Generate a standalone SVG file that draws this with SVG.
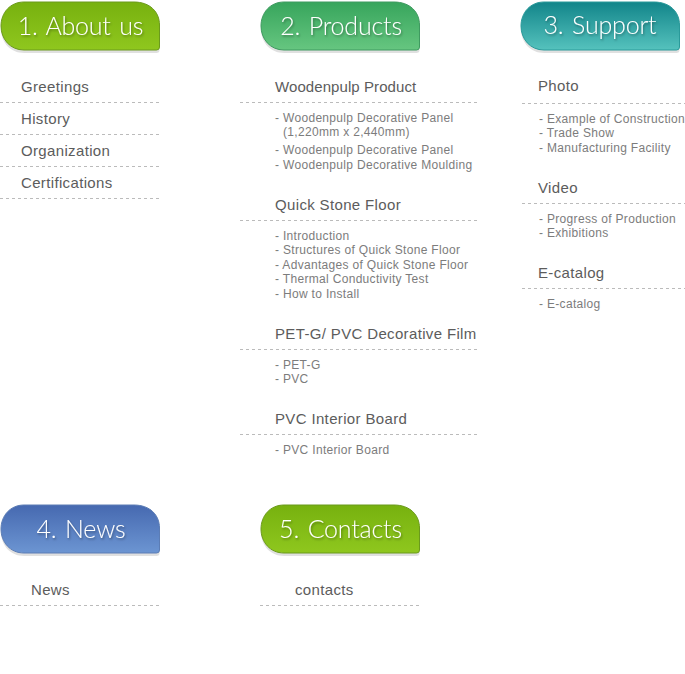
<svg xmlns="http://www.w3.org/2000/svg" width="685" height="674" viewBox="0 0 685 674">
<style>
text{font-family:"Liberation Sans",Arial,sans-serif}
.t{font-family:Lato,"Liberation Sans",sans-serif;font-weight:300;font-size:25px;fill:#fff;letter-spacing:-.2px;word-spacing:2px;text-anchor:middle;filter:url(#ts)}
.h{font-size:15px;fill:#5c5c5c;letter-spacing:.35px}
.s{font-size:12px;fill:#7c7c7c;letter-spacing:.32px}
.d{stroke:#bbb;stroke-width:1;stroke-dasharray:3 3;fill:none}
.sh{fill:#000;opacity:.12}
</style>
<defs>
<filter id="ts" x="-10%" y="-20%" width="120%" height="150%"><feDropShadow dx="1" dy="1.5" stdDeviation="1.2" flood-color="#000" flood-opacity=".35"/></filter>
<path id="b" d="M24 2H134C150 2 159.500 12 159.500 25V47Q159.500 50 156.500 50H24C10 50 1 39 1 26C1 13 10 2 24 2Z"/>
<linearGradient id="g1" x1="0" y1="0" x2="0" y2="1"><stop offset="0" stop-color="#77b10f"/><stop offset="1" stop-color="#8fc71e"/></linearGradient>
<linearGradient id="g2" x1="0" y1="0" x2="0" y2="1"><stop offset="0" stop-color="#37a55c"/><stop offset="1" stop-color="#66c680"/></linearGradient>
<linearGradient id="g3" x1="0" y1="0" x2="0" y2="1"><stop offset="0" stop-color="#12858a"/><stop offset="1" stop-color="#55c2bd"/></linearGradient>
<linearGradient id="g4" x1="0" y1="0" x2="0" y2="1"><stop offset="0" stop-color="#4669b0"/><stop offset="1" stop-color="#6c95d2"/></linearGradient>
</defs>
<g id="about">
<use href="#b" class="sh" y="3"/><use href="#b" fill="url(#g1)" stroke="#6b9a1c"/>
<text class="t" x="80.500" y="34.500">1. About us</text>
<text class="h" x="21" y="92">Greetings</text><path class="d" d="M0 102.500H159"/>
<text class="h" x="21" y="124">History</text><path class="d" d="M0 134.500H159"/>
<text class="h" x="21" y="156">Organization</text><path class="d" d="M0 166.500H159"/>
<text class="h" x="21" y="188">Certifications</text><path class="d" d="M0 198.500H159"/>
</g>
<g id="products">
<g transform="translate(260 0)"><use href="#b" class="sh" y="3"/><use href="#b" fill="url(#g2)" stroke="#3f9a60"/>
<text class="t" x="81" y="34.500">2. Products</text></g>
<text class="h" x="275" y="92" style="letter-spacing:.08px">Woodenpulp Product</text><path class="d" d="M240 102.500H477"/>
<text class="s" x="275" y="122">- Woodenpulp Decorative Panel</text>
<text class="s" x="283" y="136">(1,220mm x 2,440mm)</text>
<text class="s" x="275" y="154">- Woodenpulp Decorative Panel</text>
<text class="s" x="275" y="169">- Woodenpulp Decorative Moulding</text>
<text class="h" x="275" y="210">Quick Stone Floor</text><path class="d" d="M240 220.500H477"/>
<text class="s" x="275" y="240">- Introduction</text>
<text class="s" x="275" y="254">- Structures of Quick Stone Floor</text>
<text class="s" x="275" y="269">- Advantages of Quick Stone Floor</text>
<text class="s" x="275" y="283">- Thermal Conductivity Test</text>
<text class="s" x="275" y="298">- How to Install</text>
<text class="h" x="275" y="339">PET-G/ PVC Decorative Film</text><path class="d" d="M240 349.500H477"/>
<text class="s" x="275" y="369">- PET-G</text>
<text class="s" x="275" y="383">- PVC</text>
<text class="h" x="275" y="424">PVC Interior Board</text><path class="d" d="M240 434.500H477"/>
<text class="s" x="275" y="454">- PVC Interior Board</text>
</g>
<g id="support">
<g transform="translate(520 0)"><use href="#b" class="sh" y="3"/><use href="#b" fill="url(#g3)" stroke="#2a9a9a"/>
<text class="t" x="80" y="33.500">3. Support</text></g>
<text class="h" x="538" y="91">Photo</text><path class="d" d="M522 103.500H685"/>
<text class="s" x="539" y="123">- Example of Construction</text>
<text class="s" x="539" y="137">- Trade Show</text>
<text class="s" x="539" y="152">- Manufacturing Facility</text>
<text class="h" x="538" y="193">Video</text><path class="d" d="M522 203.500H685"/>
<text class="s" x="539" y="223">- Progress of Production</text>
<text class="s" x="539" y="237">- Exhibitions</text>
<text class="h" x="538" y="278">E-catalog</text><path class="d" d="M522 288.500H685"/>
<text class="s" x="539" y="308">- E-catalog</text>
</g>
<g id="news">
<g transform="translate(0 503)"><use href="#b" class="sh" y="3"/><use href="#b" fill="url(#g4)" stroke="#5c7db5"/>
<text class="t" x="81" y="34.500">4. News</text></g>
<text class="h" x="31" y="595">News</text><path class="d" d="M0 605.500H159"/>
</g>
<g id="contacts">
<g transform="translate(260 503)"><use href="#b" class="sh" y="3"/><use href="#b" fill="url(#g1)" stroke="#6b9a1c"/>
<text class="t" x="80.500" y="34.500">5. Contacts</text></g>
<text class="h" x="295" y="595">contacts</text><path class="d" d="M260 605.500H419"/>
</g>
</svg>
